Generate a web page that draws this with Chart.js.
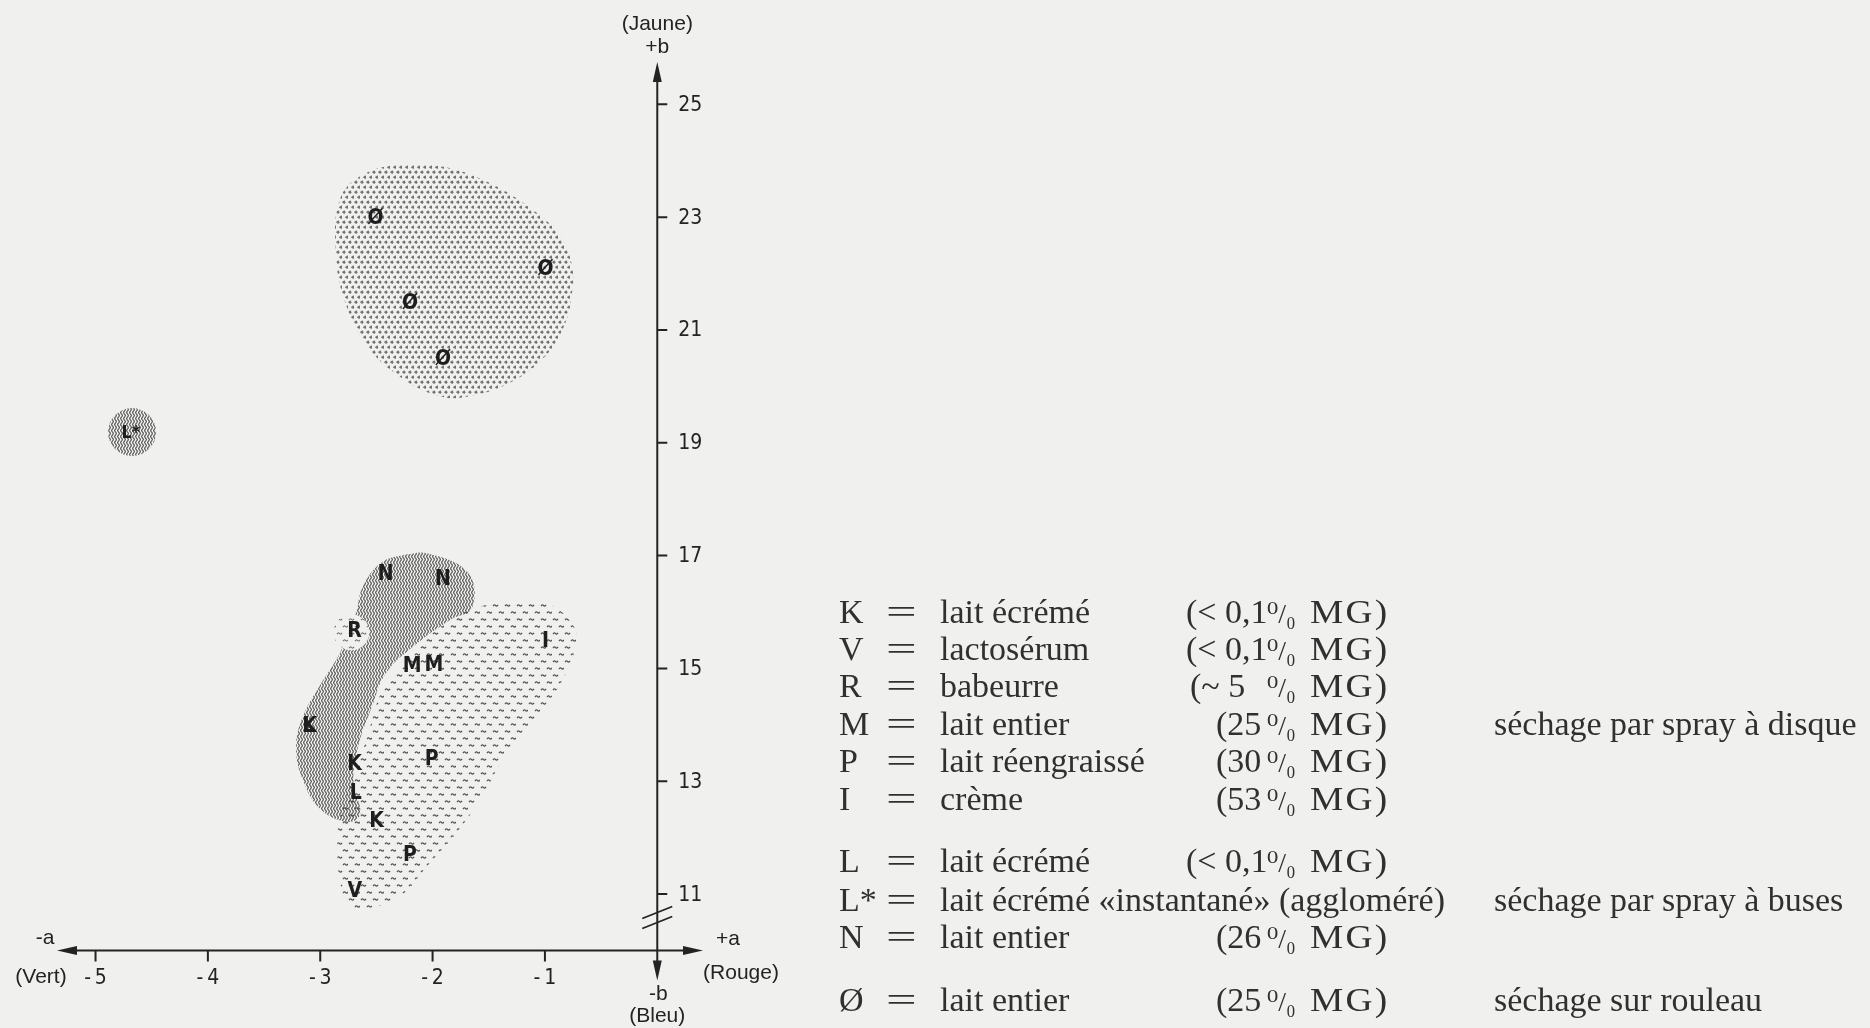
<!DOCTYPE html>
<html lang="fr">
<head>
<meta charset="utf-8">
<title>Couleur des laits en poudre (a, b)</title>
<script src="https://cdn.jsdelivr.net/npm/chart.js@4.4.1/dist/chart.umd.min.js"></script>
<style>
  html, body { margin: 0; padding: 0; background: #f0f0ee; }
  body { width: 1870px; height: 1028px; position: relative; overflow: hidden; }
  #labChart { position: absolute; left: 0; top: 0; }
  #legend { position: absolute; left: 0; top: 0; width: 1870px; height: 1028px;
            font-family: 'Liberation Serif', 'DejaVu Serif', serif;
            font-size: 34px; line-height: 34px; color: #303030; pointer-events: none; }
  #legend span { position: absolute; white-space: nowrap; }
  #legend .eq { transform: scaleX(1.6); transform-origin: left center; }
  #legend .pc { font-size: 28px; }
  #legend .mg { letter-spacing: 2px; transform: scaleX(1.1); transform-origin: left center; }
</style>
</head>
<body>
<canvas id="labChart" width="1870" height="1028"></canvas>
<div id="legend"></div>
<script>
// Axis ticks
const xTicks = [-5, -4, -3, -2, -1];
const xTickLabels = ['-\u20095', '-\u20094', '-\u20093', '-\u20092', '-\u20091'];
const yTicks = [11, 13, 15, 17, 19, 21, 23, 25];
const yTickLabels = ['11', '13', '15', '17', '19', '21', '23', '25'];
const axisCrossB = 10; // x axis sits on the break, below b = 11

// Regions (a, b outlines)
const rouleauA = [-2.295, -1.927, -1.518, -1.151, -0.885, -0.763, -0.763, -0.845, -1.028, -1.315, -1.682, -1.927, -2.255, -2.581, -2.785, -2.860, -2.826, -2.622];
const rouleauB = [23.93, 23.90, 23.63, 23.19, 22.72, 22.18, 21.59, 21.00, 20.47, 20.06, 19.82, 19.82, 20.12, 20.71, 21.53, 22.36, 23.31, 23.75];

const busesA = [-2.254, -2.050, -1.682, -1.649, -1.845, -2.173, -2.418, -2.540, -2.663, -2.704, -2.643, -2.744, -2.990, -3.154, -3.215, -3.154, -2.990, -2.826, -2.683, -2.622, -2.459];
const busesB = [17.01, 17.04, 16.69, 16.07, 15.86, 15.39, 14.91, 14.32, 13.61, 12.96, 12.43, 12.28, 12.49, 13.02, 13.61, 14.15, 14.74, 15.27, 15.98, 16.45, 16.87];

const disqueA = [-1.649, -1.192, -0.946, -0.741, -0.722, -0.824, -1.069, -1.356, -1.560, -1.765, -2.050, -2.296, -2.581, -2.744, -2.826, -2.847, -2.826, -2.581, -2.459, -2.254, -1.968, -1.765];
const disqueB = [16.07, 16.21, 16.13, 15.74, 15.45, 14.86, 14.15, 13.44, 12.73, 12.14, 11.49, 10.95, 10.75, 10.78, 11.25, 11.78, 12.31, 13.79, 14.56, 15.15, 15.68, 15.92];

// Small round spots: L* (buses) and R (disque)
const spotA = [-4.675, -2.722];
const spotB = [19.19, 15.64];

// Lettered samples
const pointNames = ['Ø', 'Ø', 'Ø', 'Ø', 'L*', 'N', 'N', 'R', 'I', 'M', 'M', 'L', 'K', 'K', 'P', 'L', 'K', 'P', 'V'];
const pointA = [-2.507, -0.995, -2.201, -1.907, -4.685, -2.417, -1.907, -2.695, -0.995, -2.181, -1.988, -3.105, -3.095, -2.695, -2.009, -2.683, -2.499, -2.201, -2.692];
const pointB = [22.98, 22.07, 21.46, 20.47, 19.17, 16.66, 16.57, 15.65, 15.48, 15.03, 15.06, 13.97, 13.97, 13.29, 13.38, 12.79, 12.28, 11.68, 11.04];

// Legend text
const legendSymbols = ['K', 'V', 'R', 'M', 'P', 'I', 'L', 'L*', 'N', 'Ø'];
const legendNames = ['lait écrémé', 'lactosérum', 'babeurre', 'lait entier', 'lait réengraissé', 'crème',
                     'lait écrémé', 'lait écrémé «instantané» (aggloméré)', 'lait entier', 'lait entier'];
const legendFat = ['(< 0,1', '(< 0,1', '(~ 5', '(25', '(30', '(53', '(< 0,1', '', '(26', '(25'];
const legendProcess = ['', '', '', 'séchage par spray à disque', '', '', '', 'séchage par spray à buses', '', 'séchage sur rouleau'];

const ink = '#232323';
const paper = '#f0f0ee';
const sansNarrow = "'Liberation Sans Narrow', 'DejaVu Sans Condensed', sans-serif";
const sans = "'Liberation Sans', Arial, sans-serif";

/**
 * Builds a repeating texture from a small tile
 */
function makePattern(w, h, paint) {
    const tile = document.createElement('canvas');
    tile.width = w;
    tile.height = h;
    const g = tile.getContext('2d');
    paint(g);
    return g.createPattern(tile, 'repeat');
}

function squiggle(g, x, y, len) {
    g.beginPath();
    g.moveTo(x, y + 0.6);
    g.quadraticCurveTo(x + len * 0.25, y - 1.4, x + len * 0.5, y);
    g.quadraticCurveTo(x + len * 0.75, y + 1.4, x + len, y - 0.6);
    g.stroke();
}

const dotPattern = makePattern(6, 10, g => {
    g.fillStyle = '#727272';
    [[1.8, 2.2], [4.8, 7.2]].forEach(([cx, cy]) => {
        g.beginPath();
        g.moveTo(cx - 2, cy);
        g.lineTo(cx + 0.6, cy - 1.9);
        g.lineTo(cx + 1.9, cy + 0.2);
        g.lineTo(cx + 0.4, cy + 1.9);
        g.closePath();
        g.fill();
    });
});

const wavyPattern = makePattern(3, 6, g => {
    g.strokeStyle = '#474747';
    g.lineWidth = 1.15;
    g.beginPath();
    for (let y = -1; y <= 7; y += 0.5) {
        const x = 1.5 + 0.8 * Math.sin(2 * Math.PI * y / 6);
        if (y === -1) g.moveTo(x, y); else g.lineTo(x, y);
    }
    g.stroke();
});

const dashPattern = makePattern(12, 14, g => {
    g.strokeStyle = '#555';
    g.lineWidth = 1.2;
    squiggle(g, 1, 3.5, 5);
    squiggle(g, 7, 10.5, 5);
});

const dashOnPaper = makePattern(12, 14, g => {
    g.fillStyle = paper;
    g.fillRect(0, 0, 12, 14);
    g.strokeStyle = '#707070';
    g.lineWidth = 1.1;
    squiggle(g, 1, 3.5, 5);
    squiggle(g, 7, 10.5, 5);
});

const toPoints = (as, bs) => as.map((a, i) => ({ x: a, y: bs[i] }));

function regionDataset(as, bs, pattern, order) {
    const pts = toPoints(as, bs);
    return {
        data: pts.concat([pts[0], pts[1]]),
        fill: 'shape',
        backgroundColor: pattern,
        borderColor: 'rgba(0,0,0,0)',
        borderWidth: 0,
        pointRadius: 0,
        tension: 0.4,
        order: order
    };
}

function spotDataset(i, pattern, radius, order) {
    return {
        data: [{ x: spotA[i], y: spotB[i] }],
        showLine: false,
        pointRadius: radius,
        pointBackgroundColor: pattern,
        pointBorderColor: 'rgba(0,0,0,0)',
        pointBorderWidth: 0,
        order: order
    };
}

function drawArrow(ctx, tx, ty, dx, dy) {
    const len = 20, half = 4.5;
    const bx = tx - dx * len, by = ty - dy * len;
    ctx.beginPath();
    ctx.moveTo(tx, ty);
    ctx.lineTo(bx - dy * half, by + dx * half);
    ctx.lineTo(bx + dy * half, by - dx * half);
    ctx.closePath();
    ctx.fill();
}

/**
 * Cross-shaped a/b axes with arrows, ticks and colour names
 */
const labAxes = {
    id: 'labAxes',
    afterDraw(chart) {
        const { ctx, chartArea: area, scales: { x, y } } = chart;
        const ox = x.getPixelForValue(0);
        const oy = y.getPixelForValue(axisCrossB);

        ctx.save();
        ctx.strokeStyle = ink;
        ctx.fillStyle = ink;
        ctx.lineWidth = 2;

        ctx.beginPath();
        ctx.moveTo(area.left + 10, oy);
        ctx.lineTo(area.right - 10, oy);
        ctx.moveTo(ox, area.top + 10);
        ctx.lineTo(ox, oy + 20);
        ctx.stroke();

        drawArrow(ctx, area.left, oy, -1, 0);
        drawArrow(ctx, area.right, oy, 1, 0);
        drawArrow(ctx, ox, area.top, 0, -1);
        drawArrow(ctx, ox, oy + 30, 0, 1);

        // axis break
        ctx.lineWidth = 1.8;
        ctx.beginPath();
        [oy - 38, oy - 28].forEach(yc => {
            ctx.moveTo(ox - 15, yc + 6);
            ctx.lineTo(ox + 15, yc - 6);
        });
        ctx.stroke();

        // ticks
        ctx.lineWidth = 2;
        ctx.beginPath();
        xTicks.forEach(v => {
            const px = x.getPixelForValue(v);
            ctx.moveTo(px, oy);
            ctx.lineTo(px, oy + 11);
        });
        yTicks.forEach(v => {
            const py = y.getPixelForValue(v);
            ctx.moveTo(ox, py);
            ctx.lineTo(ox + 10, py);
        });
        ctx.stroke();

        ctx.font = `21px ${sansNarrow}`;
        ctx.textBaseline = 'middle';
        ctx.textAlign = 'center';
        xTicks.forEach((v, i) => ctx.fillText(xTickLabels[i], x.getPixelForValue(v), oy + 28));
        ctx.textAlign = 'left';
        yTicks.forEach((v, i) => ctx.fillText(yTickLabels[i], ox + 21, y.getPixelForValue(v) + 1));

        // colour names at the axis ends
        ctx.font = `21px ${sans}`;
        ctx.textAlign = 'center';
        ctx.fillText('(Jaune)', ox, 24);
        ctx.fillText('+b', ox, 47);
        ctx.fillText('-a', area.left - 12, oy - 12);
        ctx.fillText('(Vert)', 41, oy + 27);
        ctx.fillText('+a', area.right + 25, oy - 11);
        ctx.fillText('(Rouge)', area.right + 38, oy + 23);
        ctx.fillText('-b', ox + 1, oy + 44);
        ctx.fillText('(Bleu)', ox, oy + 66);
        ctx.restore();
    }
};

/**
 * Sample letters written at their (a, b) points
 */
const pointLetters = {
    id: 'pointLetters',
    afterDatasetsDraw(chart) {
        const index = chart.data.datasets.findIndex(ds => ds.id === 'samples');
        const meta = chart.getDatasetMeta(index);
        const { ctx } = chart;
        ctx.save();
        ctx.fillStyle = '#1e1e1e';
        ctx.textAlign = 'center';
        ctx.textBaseline = 'middle';
        meta.data.forEach((pt, i) => {
            const name = pointNames[i];
            ctx.font = name === 'L*' ? `bold 18px ${sansNarrow}` : `bold 21px ${sansNarrow}`;
            ctx.fillText(name, pt.x, pt.y);
        });
        ctx.restore();
    }
};

function buildLegend() {
    const box = document.getElementById('legend');
    const baselines = [623, 660, 697, 735, 772, 810, 872, 911, 948, 1011];
    const fatLeft = [1186, 1186, 1190, 1216, 1216, 1216, 1186, 0, 1216, 1216];
    let html = '';
    legendSymbols.forEach((sym, i) => {
        const top = baselines[i] - 28.5;
        html += `<span style="left:839px; top:${top}px">${sym}</span>`;
        html += `<span class="eq" style="left:886px; top:${top}px">=</span>`;
        html += `<span style="left:940px; top:${top}px">${legendNames[i]}</span>`;
        if (legendFat[i]) {
            html += `<span style="left:${fatLeft[i]}px; top:${top}px">${legendFat[i].replace('<', '&lt;')}</span>`;
            html += `<span class="pc" style="left:1267px; top:${top + 2}px">\u2070/\u2080</span>`;
            html += `<span class="mg" style="left:1310px; top:${top}px">MG)</span>`;
        }
        if (legendProcess[i]) {
            html += `<span style="left:1494px; top:${top}px">${legendProcess[i]}</span>`;
        }
    });
    box.innerHTML = html;
}

document.addEventListener("DOMContentLoaded", () => {
    buildLegend();

    new Chart(document.getElementById('labChart'), {
        type: 'line',
        data: {
            datasets: [
                regionDataset(disqueA, disqueB, dashPattern, 8),
                regionDataset(busesA, busesB, wavyPattern, 7),
                regionDataset(rouleauA, rouleauB, dotPattern, 6),
                spotDataset(1, dashOnPaper, 18, 5),
                spotDataset(0, wavyPattern, 24, 4),
                {
                    id: 'samples',
                    data: toPoints(pointA, pointB),
                    showLine: false,
                    pointRadius: 0,
                    pointHoverRadius: 0,
                    order: 1
                }
            ]
        },
        options: {
            responsive: false,
            animation: false,
            events: [],
            layout: { padding: { left: 57, right: 1167, top: 62, bottom: 77.5 } },
            scales: {
                x: { type: 'linear', min: -5.343, max: 0.407, display: false },
                y: { type: 'linear', min: 10, max: 25.75, display: false }
            },
            plugins: {
                legend: { display: false },
                tooltip: { enabled: false }
            }
        },
        plugins: [labAxes, pointLetters]
    });
});
</script>
</body>
</html>
